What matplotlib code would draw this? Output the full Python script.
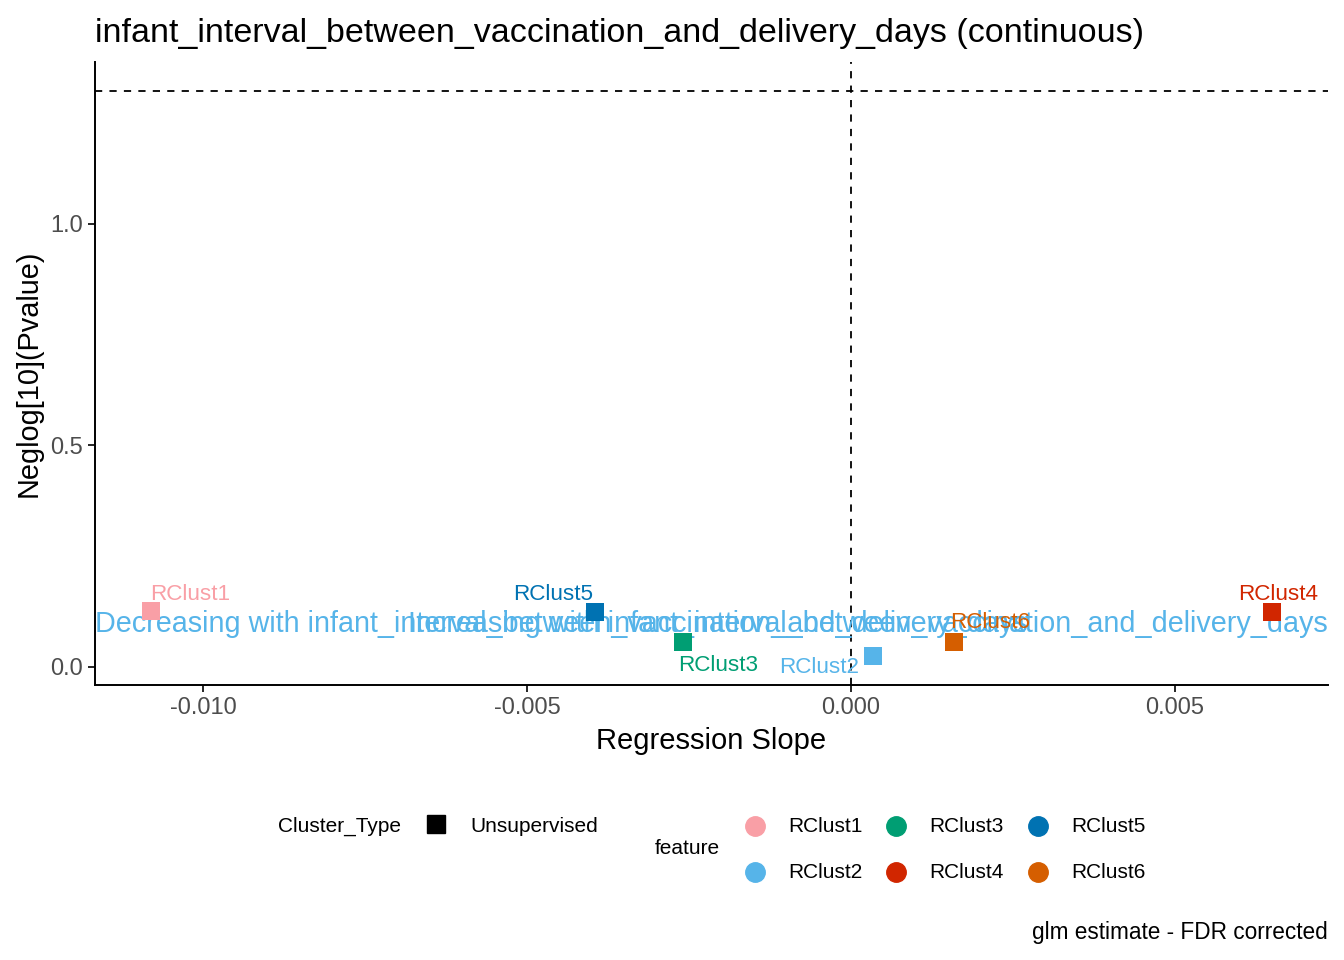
import matplotlib
matplotlib.use("Agg")
import matplotlib.pyplot as plt
from matplotlib.lines import Line2D

plt.rcParams['font.family'] = ['Liberation Sans', 'DejaVu Sans']

# data
features = ["RClust1", "RClust2", "RClust3", "RClust4", "RClust5", "RClust6"]
slopes = [-0.0108, 0.00034, -0.00259, 0.0065, -0.00395, 0.00159]
neglog_p = [0.126, 0.025, 0.056, 0.124, 0.124, 0.056]
colors = ["#F99FA6", "#56B4E9", "#009E73", "#D12600", "#0072B2", "#D55E00"]

# label offsets in pixels (ggrepel-like)
label_offsets = [(39, 17), (-54, -12), (35, -23), (6, 18), (-42, 18), (36, 20)]

var_name = "infant_interval_between_vaccination_and_delivery_days"

fig = plt.figure(figsize=(13.44, 9.6), dpi=100)
ax = fig.add_axes([0.0707, 0.2865, 0.9174, 0.649])

ax.axhline(1.301, color="black", linestyle=(0, (4, 4)), linewidth=1.3)
ax.axvline(0.0, color="black", linestyle=(0, (4, 4)), linewidth=1.3)

ax.annotate("Decreasing with " + var_name, xy=(0, 0.098), xycoords=("axes fraction", "data"),
            ha="left", va="center", fontsize=20.7, color="#56B4E9")
ax.annotate("Increasing with " + var_name, xy=(1, 0.098), xycoords=("axes fraction", "data"),
            ha="right", va="center", fontsize=20.7, color="#56B4E9")

for f, x, y, c, off in zip(features, slopes, neglog_p, colors, label_offsets):
    ax.scatter(x, y, marker="s", s=150, color=c, zorder=3, linewidths=0)
    ax.annotate(f, xy=(x, y), xytext=off, textcoords="offset pixels",
                ha="center", va="center", fontsize=16.2, color=c)

ax.set_xlim(-0.011667, 0.007361)
ax.set_ylim(-0.0406, 1.3657)
ax.set_xticks([-0.010, -0.005, 0.0, 0.005])
ax.set_xticklabels(["-0.010", "-0.005", "0.000", "0.005"])
ax.set_yticks([0.0, 0.5, 1.0])
ax.set_yticklabels(["0.0", "0.5", "1.0"])
ax.tick_params(labelsize=17, labelcolor="#4D4D4D", length=5, width=1.2)
for s in ["top", "right"]:
    ax.spines[s].set_visible(False)
for s in ["left", "bottom"]:
    ax.spines[s].set_linewidth(1.4)

ax.set_xlabel("Regression Slope", fontsize=21, labelpad=6)
ax.set_ylabel("Neglog[10](Pvalue)", fontsize=20.8, labelpad=6)
ax.set_title("infant_interval_between_vaccination_and_delivery_days (continuous)",
             fontsize=24.5, loc="left", x=0.0, pad=14)

# legends drawn by hand to mimic ggplot layout
W, H = 1344, 960
def fx(px):
    return px / W
def fy(py):
    return 1 - py / H

fig.text(fx(278), fy(826), "Cluster_Type", fontsize=15, va="center", ha="left")
fig.add_artist(Line2D([fx(436)], [fy(824)], marker="s", markersize=13, color="black",
                      linestyle="none", transform=fig.transFigure))
fig.text(fx(470), fy(826), "Unsupervised", fontsize=15, va="center", ha="left")

fig.text(fx(655), fy(849), "feature", fontsize=15, va="center", ha="left")
col_x = [755, 896, 1038]
row_y = [826, 872]
order = [0, 2, 4, 1, 3, 5]
for k, i in enumerate(order):
    col = k % 3
    row = k // 3
    fig.add_artist(Line2D([fx(col_x[col])], [fy(row_y[row])], marker="o", markersize=14,
                          color=colors[i], linestyle="none", transform=fig.transFigure))
    fig.text(fx(col_x[col] + 33), fy(row_y[row]), features[i], fontsize=15,
             va="center", ha="left")

fig.text(fx(1328), fy(933), "glm estimate - FDR corrected", fontsize=16.3,
         va="center", ha="right")

fig.savefig("out.png", dpi=100)
